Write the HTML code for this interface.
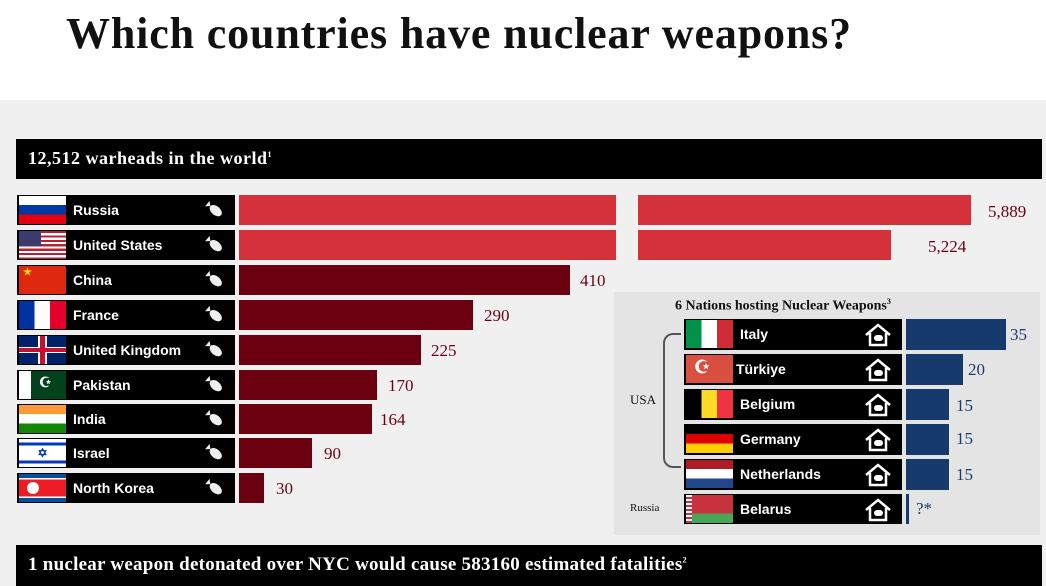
<!DOCTYPE html><html><head><meta charset="utf-8"><style>
*{margin:0;padding:0;box-sizing:border-box}
body{width:1046px;height:586px;overflow:hidden;background:#fff;position:relative;font-family:"Liberation Sans",sans-serif}
.a{position:absolute}
.serif{font-family:"Liberation Serif",serif}
.lab{position:absolute;background:#000;color:#fff;font-size:14px;font-weight:bold}
.lab span{position:absolute;left:56px;top:7px}
.flag{position:absolute;left:2px;top:1px;width:47px;height:28px;overflow:hidden}
.bomb{position:absolute;right:10px;top:6px;width:20px;height:18px}
.num{position:absolute;font-family:"Liberation Serif",serif;font-size:17px;color:#6b0010}
.bnum{position:absolute;font-family:"Liberation Serif",serif;font-size:17px;color:#1c3a6b}
.house{position:absolute;right:10px;top:4px;width:28px;height:24px}
</style></head><body>
<svg width="0" height="0" style="position:absolute"><defs>
<symbol id="b" viewBox="0 0 20 18"><g transform="rotate(40 10 9)"><ellipse cx="11" cy="9" rx="7" ry="4.5" fill="#eee"/><path d="M4 9 L0 5.5 L0 12.5 Z" fill="#eee"/></g></symbol>
<symbol id="h" viewBox="0 0 28 24"><path d="M2 12 L14 2 L26 12" fill="none" stroke="#fff" stroke-width="2.5"/><path d="M6 10 V22 H22 V10" fill="none" stroke="#fff" stroke-width="2.5"/><rect x="10" y="12" width="9" height="6" rx="3" fill="#fff"/></symbol>
</defs></svg>
<div class="a serif" style="left:66px;top:8px;font-size:44px;font-weight:bold;color:#111;letter-spacing:0.85px">Which countries have nuclear weapons?</div>
<div class="a" style="left:0;top:100px;width:1046px;height:486px;background:#f0f0f0"></div>
<div class="a" style="left:16px;top:139px;width:1026px;height:40px;background:#000"></div>
<div class="a serif" style="left:28px;top:148px;font-size:18px;font-weight:bold;color:#fff;letter-spacing:0.5px">12,512 warheads in the world<sup style="font-size:8px">1</sup></div>

<div class="lab" style="left:17px;top:195px;width:218px;height:30px"><div class="flag" style="background:linear-gradient(#fff 33%,#0039a6 33% 66%,#e4000f 66%)"></div><span>Russia</span><svg class="bomb"><use href="#b"/></svg></div>
<div class="lab" style="left:17px;top:230px;width:218px;height:30px"><div class="flag" style="background:repeating-linear-gradient(#b22234 0 2.2px,#fff 2.2px 4.4px)"><div class="a" style="left:0;top:0;width:22px;height:15px;background:#3c3b6e"></div></div><span>United States</span><svg class="bomb"><use href="#b"/></svg></div>
<div class="lab" style="left:17px;top:265px;width:218px;height:30px"><div class="flag" style="background:#de2910;color:#ffde00;font-size:10px;padding:1px 4px">★</div><span>China</span><svg class="bomb"><use href="#b"/></svg></div>
<div class="lab" style="left:17px;top:300px;width:218px;height:30px"><div class="flag" style="background:linear-gradient(90deg,#0033a0 33%,#fff 33% 66%,#e4002b 66%)"></div><span>France</span><svg class="bomb"><use href="#b"/></svg></div>
<div class="lab" style="left:17px;top:335px;width:218px;height:30px"><div class="flag" style="background:#012169"><div class="a" style="left:-5px;top:11px;width:57px;height:6px;background:#fff"></div><div class="a" style="left:19px;top:0;width:9px;height:28px;background:#fff"></div><div class="a" style="left:-5px;top:12px;width:57px;height:4px;background:#c8102e"></div><div class="a" style="left:21px;top:0;width:5px;height:28px;background:#c8102e"></div></div><span>United Kingdom</span><svg class="bomb"><use href="#b"/></svg></div>
<div class="lab" style="left:17px;top:370px;width:218px;height:30px"><div class="flag" style="background:linear-gradient(90deg,#fff 25%,#01411c 25%);color:#fff;font-size:14px;padding:3px 0 0 20px">☪</div><span>Pakistan</span><svg class="bomb"><use href="#b"/></svg></div>
<div class="lab" style="left:17px;top:404px;width:218px;height:30px"><div class="flag" style="background:linear-gradient(#ff9933 33%,#fff 33% 66%,#138808 66%)"></div><span>India</span><svg class="bomb"><use href="#b"/></svg></div>
<div class="lab" style="left:17px;top:438px;width:218px;height:30px"><div class="flag" style="background:linear-gradient(#fff 12%,#0038b8 12% 24%,#fff 24% 76%,#0038b8 76% 88%,#fff 88%);color:#0038b8;font-size:12px;text-align:center;line-height:28px">✡</div><span>Israel</span><svg class="bomb"><use href="#b"/></svg></div>
<div class="lab" style="left:17px;top:473px;width:218px;height:30px"><div class="flag" style="background:linear-gradient(#024fa2 15%,#fff 15% 20%,#ed1c27 20% 80%,#fff 80% 85%,#024fa2 85%)"><div class="a" style="left:8px;top:8px;width:12px;height:12px;border-radius:50%;background:#fff"></div></div><span>North Korea</span><svg class="bomb"><use href="#b"/></svg></div>

<div class="a" style="left:239px;top:195px;width:377px;height:30px;background:#d4313b"></div>
<div class="a" style="left:638px;top:195px;width:333px;height:30px;background:#d4313b"></div>
<div class="a" style="left:239px;top:230px;width:377px;height:30px;background:#d4313b"></div>
<div class="a" style="left:638px;top:230px;width:253px;height:30px;background:#d4313b"></div>
<div class="a" style="left:239px;top:265px;width:331px;height:30px;background:#6b0010"></div>
<div class="a" style="left:239px;top:300px;width:234px;height:30px;background:#6b0010"></div>
<div class="a" style="left:239px;top:335px;width:182px;height:30px;background:#6b0010"></div>
<div class="a" style="left:239px;top:370px;width:138px;height:30px;background:#6b0010"></div>
<div class="a" style="left:239px;top:404px;width:133px;height:30px;background:#6b0010"></div>
<div class="a" style="left:239px;top:438px;width:73px;height:30px;background:#6b0010"></div>
<div class="a" style="left:239px;top:473px;width:25px;height:30px;background:#6b0010"></div>
<div class="num" style="left:988px;top:202px">5,889</div>
<div class="num" style="left:928px;top:237px">5,224</div>
<div class="num" style="left:580px;top:271px">410</div>
<div class="num" style="left:484px;top:306px">290</div>
<div class="num" style="left:431px;top:341px">225</div>
<div class="num" style="left:388px;top:376px">170</div>
<div class="num" style="left:380px;top:410px">164</div>
<div class="num" style="left:324px;top:444px">90</div>
<div class="num" style="left:276px;top:479px">30</div>

<div class="a" style="left:614px;top:292px;width:426px;height:243px;background:#e4e4e4"></div>
<div class="a serif" style="left:675px;top:297px;font-size:14px;font-weight:bold;color:#111">6 Nations hosting Nuclear Weapons<sup style="font-size:8px">3</sup></div>
<div class="a" style="left:663px;top:333px;width:18px;height:135px;border:2px solid #555;border-right:none;border-radius:10px 0 0 10px"></div>
<div class="a serif" style="left:630px;top:392px;font-size:13px;color:#111">USA</div>
<div class="a serif" style="left:630px;top:502px;font-size:11px;color:#111">Russia</div>

<div class="lab" style="left:684px;top:319px;width:218px;height:31px"><div class="flag" style="background:linear-gradient(90deg,#009246 33%,#fff 33% 66%,#ce2b37 66%)"></div><span>Italy</span><svg class="house"><use href="#h"/></svg></div>
<div class="lab" style="left:684px;top:354px;width:218px;height:31px"><div class="flag" style="background:#d94f40;color:#fff;font-size:18px;padding:2px 0 0 8px">☪</div><span style="left:52px">Türkiye</span><svg class="house"><use href="#h"/></svg></div>
<div class="lab" style="left:684px;top:389px;width:218px;height:31px"><div class="flag" style="background:linear-gradient(90deg,#000 33%,#fdda24 33% 66%,#ef3340 66%)"></div><span>Belgium</span><svg class="house"><use href="#h"/></svg></div>
<div class="lab" style="left:684px;top:424px;width:218px;height:31px"><div class="flag" style="background:linear-gradient(#000 33%,#dd0000 33% 66%,#ffce00 66%)"></div><span>Germany</span><svg class="house"><use href="#h"/></svg></div>
<div class="lab" style="left:684px;top:459px;width:218px;height:31px"><div class="flag" style="background:linear-gradient(#ae1c28 33%,#fff 33% 66%,#21468b 66%)"></div><span>Netherlands</span><svg class="house"><use href="#h"/></svg></div>
<div class="lab" style="left:684px;top:494px;width:218px;height:30px"><div class="flag" style="background:linear-gradient(#c8313e 66%,#4aa657 66%)"><div class="a" style="left:0;top:0;width:6px;height:28px;background:repeating-linear-gradient(#fff 0 2px,#c8313e 2px 4px)"></div></div><span>Belarus</span><svg class="house"><use href="#h"/></svg></div>

<div class="a" style="left:906px;top:319px;width:100px;height:31px;background:#163a6b"></div>
<div class="a" style="left:906px;top:354px;width:57px;height:31px;background:#163a6b"></div>
<div class="a" style="left:906px;top:389px;width:43px;height:31px;background:#163a6b"></div>
<div class="a" style="left:906px;top:424px;width:43px;height:31px;background:#163a6b"></div>
<div class="a" style="left:906px;top:459px;width:43px;height:31px;background:#163a6b"></div>
<div class="a" style="left:906px;top:494px;width:3px;height:30px;background:#163a6b"></div>
<div class="bnum" style="left:1010px;top:325px">35</div>
<div class="bnum" style="left:968px;top:360px">20</div>
<div class="bnum" style="left:956px;top:396px">15</div>
<div class="bnum" style="left:956px;top:429px">15</div>
<div class="bnum" style="left:956px;top:465px">15</div>
<div class="bnum" style="left:916px;top:499px">?*</div>

<div class="a" style="left:16px;top:545px;width:1026px;height:41px;background:#000"></div>
<div class="a serif" style="left:28px;top:554px;font-size:19px;font-weight:bold;color:#fff;letter-spacing:0.25px">1 nuclear weapon detonated over NYC would cause 583160 estimated fatalities<sup style="font-size:8px">2</sup></div>
</body></html>
